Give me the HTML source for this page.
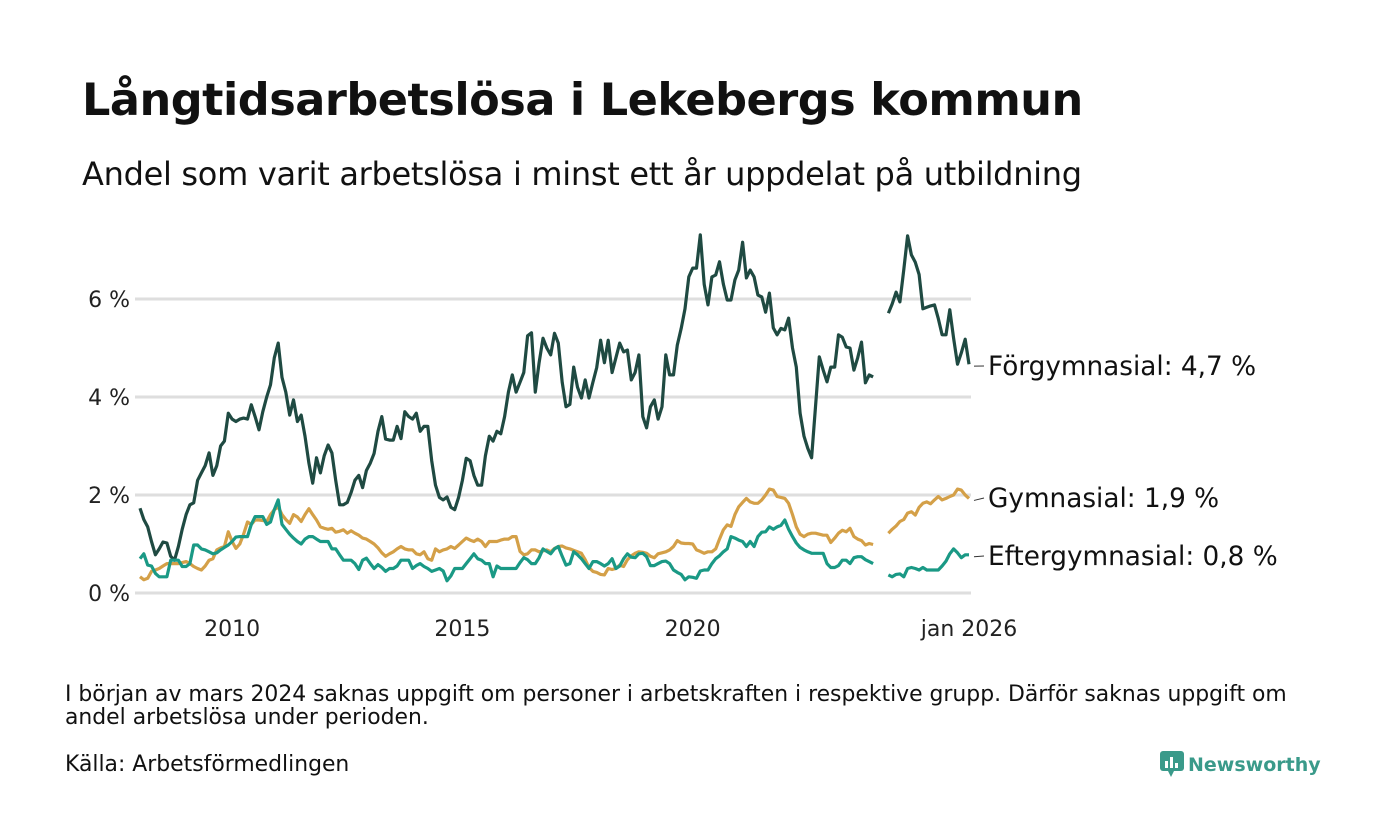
<!DOCTYPE html>
<html><head><meta charset="utf-8">
<style>
html,body{margin:0;padding:0;background:#fff;}
body{width:1400px;height:840px;position:relative;overflow:hidden;font-family:"Liberation Sans","DejaVu Sans",sans-serif;color:#111;}
.t{position:absolute;white-space:nowrap;}
</style></head>
<body>
<div class="t" style="left:82px;top:74px;font-size:44.6px;font-weight:bold;font-family:'DejaVu Sans',sans-serif;letter-spacing:-0.5px;">Långtidsarbetslösa i Lekebergs kommun</div>
<div class="t" style="left:82px;top:155px;font-size:32px;font-family:'DejaVu Sans',sans-serif;letter-spacing:-0.3px;">Andel som varit arbetslösa i minst ett år uppdelat på utbildning</div>
<svg id="chart" width="1400" height="840" style="position:absolute;left:0;top:0;" xmlns="http://www.w3.org/2000/svg"></svg>
<div class="t" style="left:65px;top:683px;font-size:21.9px;line-height:23px;font-family:'DejaVu Sans',sans-serif;">I början av mars 2024 saknas uppgift om personer i arbetskraften i respektive grupp. Därför saknas uppgift om<br>andel arbetslösa under perioden.</div>
<div class="t" style="left:65px;top:752px;font-size:21.9px;font-family:'DejaVu Sans',sans-serif;">Källa: Arbetsförmedlingen</div>
<div class="t" style="left:1159px;top:749px;font-size:19px;font-weight:bold;color:#3a9a8a;font-family:'DejaVu Sans',sans-serif;">
<svg width="26" height="30" style="vertical-align:-8px;margin-right:3px"><rect x="1" y="2" width="24" height="20" rx="3" fill="#3a9a8a"/><polygon points="9,22 15,22 12,28" fill="#3a9a8a"/><rect x="6" y="12" width="3" height="7" fill="#fff"/><rect x="11" y="8" width="3" height="11" fill="#fff"/><rect x="16" y="14" width="3" height="5" fill="#fff"/></svg>Newsworthy</div>
<script>
const yTicks=[0,2,4,6];
const xTickYears=[2010,2015,2020];
const startYear=2008;
const forg=[
1.73,1.5,1.35,1.05,0.78,0.9,1.04,1.02,0.75,0.67,0.95,1.3,
1.6,1.8,1.84,2.3,2.45,2.6,2.86,2.4,2.6,3.0,3.1,3.67,
3.55,3.5,3.55,3.57,3.55,3.84,3.6,3.33,3.7,4.0,4.25,4.8,
5.1,4.4,4.1,3.63,3.94,3.5,3.63,3.2,2.65,2.24,2.76,2.45,
2.8,3.02,2.86,2.3,1.8,1.8,1.85,2.05,2.3,2.4,2.15,2.5,
2.65,2.85,3.3,3.6,3.14,3.12,3.12,3.4,3.15,3.7,3.6,3.55,
3.67,3.3,3.4,3.4,2.7,2.2,1.95,1.9,1.96,1.75,1.7,1.95,
2.3,2.75,2.7,2.4,2.2,2.2,2.8,3.2,3.1,3.3,3.25,3.6,
4.1,4.45,4.1,4.3,4.5,5.25,5.31,4.1,4.7,5.2,5.0,4.86,
5.3,5.1,4.3,3.8,3.85,4.61,4.2,3.98,4.35,3.98,4.3,4.6,
5.16,4.7,5.16,4.5,4.8,5.1,4.92,4.96,4.35,4.5,4.86,3.6,
3.37,3.8,3.94,3.55,3.8,4.86,4.45,4.45,5.06,5.4,5.8,6.45,
6.63,6.63,7.31,6.3,5.88,6.45,6.49,6.76,6.3,5.98,5.98,6.39,
6.59,7.16,6.43,6.59,6.45,6.08,6.04,5.73,6.12,5.41,5.27,5.4,
5.37,5.61,5.0,4.61,3.67,3.2,2.95,2.76,3.8,4.82,4.55,4.31,
4.61,4.61,5.27,5.22,5.02,5.0,4.55,4.8,5.12,4.29,4.45,4.41,
null,null,null,5.71,5.9,6.14,5.94,6.6,7.29,6.9,6.75,6.5,
5.8,5.83,5.86,5.88,5.6,5.27,5.27,5.78,5.2,4.67,4.9,5.18,
4.67];
const gym=[
0.33,0.27,0.3,0.44,0.47,0.5,0.55,0.6,0.6,0.6,0.6,0.62,
0.64,0.6,0.54,0.5,0.47,0.55,0.67,0.7,0.88,0.92,0.95,1.25,
1.05,0.91,1.0,1.2,1.45,1.4,1.49,1.49,1.48,1.46,1.6,1.7,
1.76,1.6,1.5,1.42,1.6,1.55,1.46,1.6,1.72,1.6,1.49,1.35,
1.32,1.3,1.32,1.24,1.26,1.29,1.22,1.27,1.22,1.18,1.12,1.1,
1.05,1.0,0.92,0.82,0.75,0.8,0.84,0.9,0.95,0.9,0.88,0.88,
0.8,0.78,0.84,0.7,0.67,0.9,0.84,0.88,0.9,0.95,0.91,0.98,
1.05,1.12,1.08,1.05,1.1,1.05,0.95,1.05,1.05,1.05,1.08,1.1,
1.1,1.15,1.15,0.85,0.78,0.8,0.88,0.88,0.84,0.86,0.88,0.84,
0.91,0.95,0.96,0.92,0.9,0.87,0.84,0.81,0.68,0.52,0.44,0.42,
0.38,0.37,0.5,0.48,0.5,0.57,0.54,0.68,0.76,0.81,0.84,0.83,
0.81,0.75,0.72,0.8,0.82,0.84,0.88,0.95,1.07,1.02,1.01,1.01,
1.0,0.88,0.85,0.81,0.84,0.84,0.9,1.1,1.29,1.39,1.36,1.6,
1.76,1.85,1.93,1.86,1.83,1.83,1.9,2.0,2.12,2.1,1.97,1.95,
1.93,1.83,1.6,1.35,1.2,1.15,1.2,1.22,1.22,1.2,1.18,1.18,
1.03,1.12,1.22,1.28,1.25,1.32,1.15,1.1,1.07,0.98,1.01,0.99,
null,null,null,1.22,1.3,1.37,1.46,1.5,1.63,1.66,1.59,1.75,
1.83,1.86,1.82,1.9,1.97,1.9,1.93,1.97,2.0,2.12,2.1,2.0,
1.93];
const efter=[
0.7,0.8,0.57,0.55,0.4,0.33,0.33,0.33,0.67,0.67,0.67,0.54,
0.54,0.6,0.98,0.98,0.9,0.88,0.84,0.8,0.82,0.88,0.93,0.98,
1.05,1.14,1.15,1.15,1.15,1.4,1.56,1.56,1.56,1.4,1.45,1.7,
1.9,1.4,1.3,1.2,1.12,1.05,1.0,1.1,1.15,1.15,1.1,1.05,
1.05,1.05,0.9,0.9,0.78,0.67,0.67,0.67,0.6,0.48,0.67,0.71,
0.6,0.5,0.58,0.52,0.44,0.5,0.5,0.55,0.67,0.67,0.67,0.5,
0.56,0.6,0.54,0.5,0.44,0.47,0.5,0.45,0.25,0.35,0.5,0.5,
0.5,0.6,0.7,0.8,0.7,0.67,0.6,0.6,0.33,0.55,0.5,0.5,
0.5,0.5,0.5,0.62,0.72,0.68,0.6,0.6,0.72,0.9,0.85,0.8,
0.9,0.95,0.75,0.57,0.6,0.84,0.78,0.7,0.6,0.5,0.64,0.64,
0.6,0.55,0.6,0.7,0.5,0.55,0.7,0.8,0.73,0.72,0.8,0.81,
0.74,0.56,0.56,0.6,0.64,0.65,0.6,0.47,0.42,0.38,0.27,0.33,
0.32,0.3,0.45,0.47,0.47,0.6,0.7,0.76,0.84,0.9,1.15,1.12,
1.08,1.05,0.95,1.05,0.95,1.15,1.24,1.25,1.35,1.3,1.35,1.38,
1.49,1.3,1.15,1.02,0.93,0.88,0.84,0.81,0.81,0.81,0.81,0.6,
0.52,0.52,0.56,0.67,0.67,0.6,0.72,0.74,0.74,0.68,0.64,0.6,
null,null,null,0.37,0.33,0.38,0.39,0.33,0.5,0.52,0.5,0.47,
0.52,0.47,0.47,0.47,0.47,0.55,0.65,0.8,0.9,0.82,0.72,0.78,
0.78];
const seriesNames=["Förgymnasial","Gymnasial","Eftergymnasial"];
const labelY=[366,498,556];

const svg=document.getElementById('chart');
const NS='http://www.w3.org/2000/svg';
const X0=140,X1=969,Y0=593,PER=49;
const nMonths=forg.length-1;
function xScale(i){return X0+(X1-X0)*i/nMonths;}
function yScale(v){return Y0-v*PER;}
function mk(tag,attrs){const e=document.createElementNS(NS,tag);for(const k in attrs)e.setAttribute(k,attrs[k]);svg.appendChild(e);return e;}

yTicks.forEach(t=>{
  const l=mk('line',{x1:135,x2:971,y1:yScale(t),y2:yScale(t),stroke:'#dedede','stroke-width':3});
  
  
  const tx=mk('text',{x:130,y:yScale(t)+8,'text-anchor':'end','font-size':22,fill:'#222','font-family':'DejaVu Sans, sans-serif'});
  tx.textContent=t+' %';
  
  
});
xTickYears.forEach(yr=>{
  const tx=mk('text',{x:xScale((yr-startYear)*12),y:636,'text-anchor':'middle','font-size':22,fill:'#222','font-family':'DejaVu Sans, sans-serif'});
  tx.textContent=yr;
  
  
});
const lt=mk('text',{x:xScale(nMonths),y:636,'text-anchor':'middle','font-size':22,fill:'#222','font-family':'DejaVu Sans, sans-serif'});
lt.textContent='jan 2026';



const colors=['#1f4a42','#d4a048','#1a9985'];
[forg,gym,efter].forEach((arr,si)=>{
  let d='',pen=false;
  arr.forEach((v,i)=>{
    if(v===null){pen=false;return;}
    d+=(pen?'L':'M')+xScale(i).toFixed(1)+','+yScale(v).toFixed(1);
    pen=true;
  });
  const p=mk('path',{d:d,fill:'none',stroke:colors[si],'stroke-width':3.2,'stroke-linejoin':'round'});
  
  
  const last=arr[arr.length-1];
  const ly=labelY[si];
  const tk=mk('line',{x1:974,x2:984,y1:yScale(last)+2,y2:ly,stroke:'#333','stroke-width':1});
  
  
  const lb=mk('text',{x:988,y:ly+9,'font-size':26.3,fill:'#111','font-family':'DejaVu Sans, sans-serif'});
  lb.textContent=seriesNames[si]+': '+last.toFixed(1).replace('.',',')+' %';
  
  
});
</script>
</body></html>
